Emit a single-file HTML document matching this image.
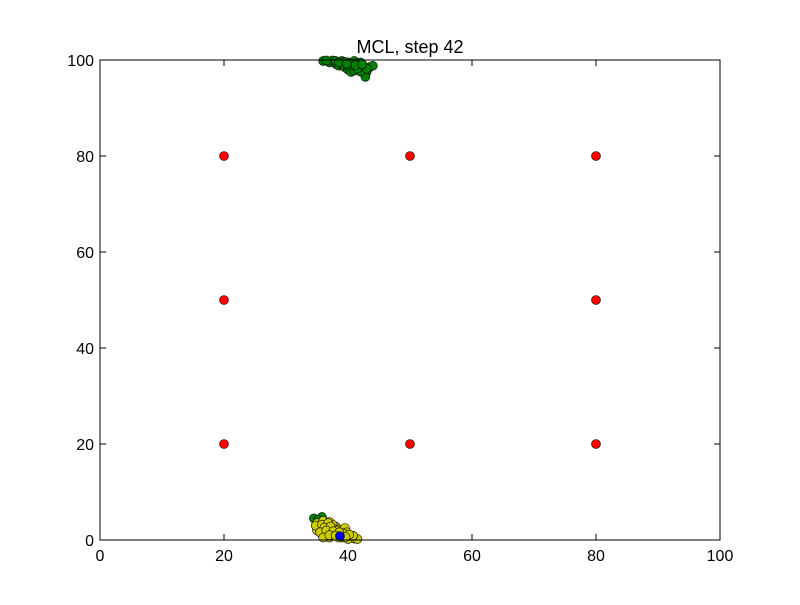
<!DOCTYPE html>
<html><head><meta charset="utf-8"><style>
body{margin:0;background:#fff;}
svg text{font-family:"Liberation Sans","DejaVu Sans",sans-serif;}
</style></head><body>
<svg id="chart" width="800" height="600" xmlns="http://www.w3.org/2000/svg">
<rect width="800" height="600" fill="#fff"/>
<text x="410" y="53" font-size="18" text-anchor="middle">MCL, step 42</text>
<g id="ticks"></g>
<g id="marks"></g>
<rect x="100" y="60" width="620" height="480" fill="none" stroke="#000" stroke-width="1"/>
</svg>
<script>
const xTicks=[0,20,40,60,80,100];
const yTicks=[0,20,40,60,80,100];
const landmarksX=[20,50,80,20,80,20,50,80];
const landmarksY=[80,80,80,50,50,20,20,20];
const greenX=[36,37,38,38.5,39,39.5,40,40.5,41,41.5,42,42.5,43,42.8,43.5,44,40,41,39,42,37.5,40.8,36.5,38,39.5,41,42,43,40,41.5,38.5,39.8,41.2,42.3,34.5,35.8,35.2];
const greenY=[99.8,99.5,99.2,98.8,99,98.5,98,97.5,98.5,99,98.5,98,97.5,96.5,98.5,98.8,99.5,99.8,99.8,99.5,99.9,99.2,99.9,99.8,99.6,97.8,97.6,98.2,98.8,98.2,99.5,99.2,98.9,99.1,4.5,4.8,4.2];
const yellowX=[35,35.5,36,36.5,37,37,37.5,38,38,38.5,39,39,39.5,40,40.5,41,41.5,36,36.5,35,37.5,38.5,39.5,40,37,34.8,35.8,36.8,37.8,38.8,39.8,40.8,36.2,37.2,38.2,39.2,40.2,35.5,36.5,37.6,38.6,39.6,36,37,38];
const yellowY=[3.5,2.5,4,3,3.8,2,1.2,2.8,1.5,2.2,0.5,1.8,1.2,0.8,0.5,0.3,0.2,1.5,0.8,2,3.2,0.5,2.5,0.2,0.5,3,3.2,3.5,2.2,1.2,1.6,0.9,2.6,2.8,2,1.4,1.1,1.6,2,1.8,1.6,0.6,0.5,1,0.9];
const blueX=[38.7];
const blueY=[0.8];
const NS="http://www.w3.org/2000/svg";
const sx=v=>100+v*6.2, sy=v=>540-v*4.8;
const tg=document.getElementById('ticks'), mg=document.getElementById('marks');
function mk(t,a,p){const e=document.createElementNS(NS,t);for(const k in a)e.setAttribute(k,a[k]);p.appendChild(e);return e;}
xTicks.forEach(v=>{
  const x=sx(v);
  const t1=mk('line',{x1:x,x2:x,y1:540,y2:534,stroke:'#000'},tg);
  
  
  mk('line',{x1:x,x2:x,y1:60,y2:66,stroke:'#000'},tg);
  const l=mk('text',{x:x,y:561,'font-size':'16','text-anchor':'middle'},tg);
  l.textContent=v;
  
  
});
yTicks.forEach(v=>{
  const y=sy(v);
  const t1=mk('line',{x1:100,x2:106,y1:y,y2:y,stroke:'#000'},tg);
  
  
  mk('line',{x1:714,x2:720,y1:y,y2:y,stroke:'#000'},tg);
  const l=mk('text',{x:94,y:y+6,'font-size':'16','text-anchor':'end'},tg);
  l.textContent=v;
  
  
});
function draw(xs,ys,fill,name){
  xs.forEach((v,i)=>{
    const c=mk('circle',{cx:sx(v),cy:sy(ys[i]),r:4.5,fill:fill,stroke:'#000','stroke-width':0.6},mg);
    
    
  });
}
draw(greenX,greenY,'#008000','particle-green');
draw(yellowX,yellowY,'#cccc00','particle-yellow');
draw(blueX,blueY,'#0000ff','estimate-blue');
draw(landmarksX,landmarksY,'#ff0000','landmark');
</script>
</body></html>
